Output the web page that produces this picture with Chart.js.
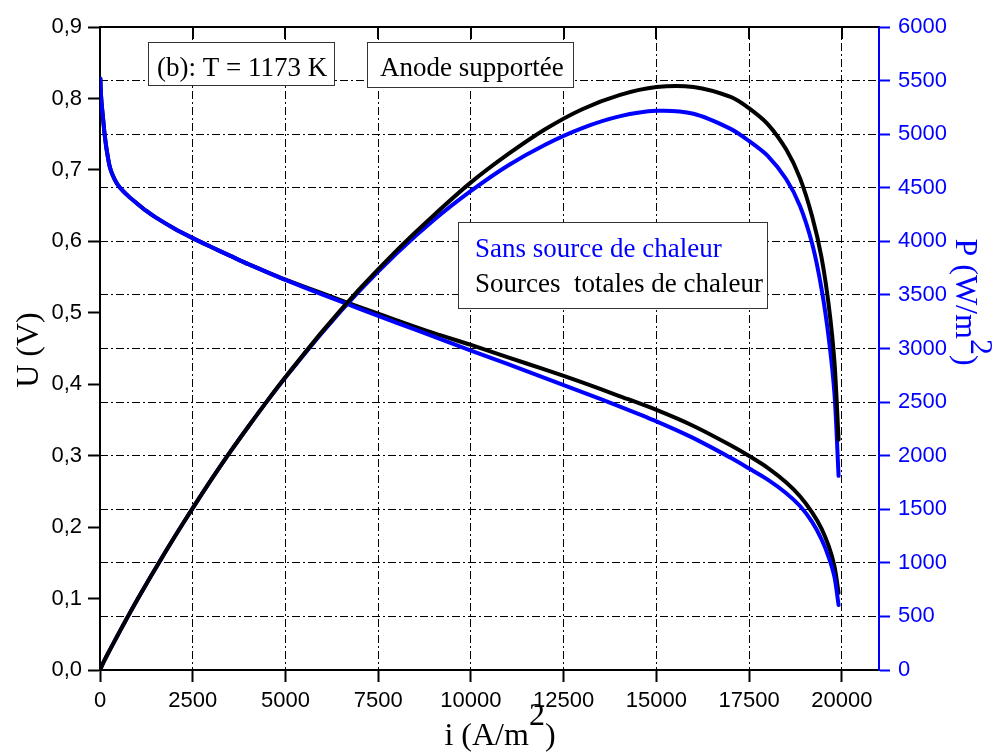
<!DOCTYPE html>
<html>
<head>
<meta charset="utf-8">
<title>U et P en fonction de i</title>
<script src="https://cdn.jsdelivr.net/npm/chart.js@4.4.1/dist/chart.umd.min.js"></script>
<style>
  body { margin: 0; background: #fff; }
  canvas { display: block; }
</style>
</head>
<body>
<canvas id="chart" width="999" height="754"></canvas>
<script>
// current density i (A/m2)
const currentDensity = [10, 20, 40, 60, 90, 120, 180, 270, 400, 540, 750, 1000, 1250, 1500, 2000, 2500, 3000, 3500, 4000, 4500, 5000, 6000, 7000, 8000, 9000, 10000, 11000, 12000, 13000, 14000, 15000, 16000, 17000, 17500, 18000, 18500, 18870, 19200, 19450, 19650, 19800, 19910];

// cell voltage U (V)
const voltageSans = [0.828, 0.812, 0.795, 0.784, 0.768, 0.752, 0.728, 0.703, 0.686, 0.675, 0.664, 0.653, 0.6425, 0.6335, 0.618, 0.6045, 0.592, 0.580, 0.568, 0.557, 0.546, 0.5255, 0.5055, 0.486, 0.4665, 0.447, 0.428, 0.4085, 0.389, 0.369, 0.348, 0.3245, 0.297, 0.282, 0.2665, 0.2475, 0.2295, 0.207, 0.183, 0.157, 0.130, 0.091];
const voltageTotal = [0.828, 0.812, 0.795, 0.784, 0.768, 0.752, 0.728, 0.703, 0.686, 0.675, 0.664, 0.653, 0.6425, 0.6335, 0.618, 0.6045, 0.592, 0.580, 0.568, 0.557, 0.5465, 0.527, 0.508, 0.4895, 0.4715, 0.455, 0.4375, 0.4205, 0.4025, 0.3835, 0.364, 0.3415, 0.3145, 0.2995, 0.283, 0.2625, 0.2432, 0.2203, 0.198, 0.1725, 0.145, 0.108];

// power density P (W/m2)
const powerSans = [8, 16, 32, 47, 69, 90, 131, 190, 274, 365, 498, 653, 803, 950, 1236, 1511, 1776, 2030, 2272, 2507, 2730, 3153, 3539, 3888, 4199, 4470, 4708, 4902, 5057, 5166, 5218, 5190, 5049, 4935, 4797, 4579, 4330, 3975, 3559, 3085, 2574, 1812];
const powerTotal = [8, 16, 32, 47, 69, 90, 131, 190, 274, 365, 498, 653, 803, 950, 1236, 1511, 1776, 2030, 2272, 2507, 2733, 3162, 3556, 3916, 4244, 4550, 4813, 5046, 5233, 5365, 5440, 5440, 5347, 5241, 5094, 4856, 4590, 4230, 3851, 3390, 2871, 2150];

// tick values
const xTicks = [0, 2500, 5000, 7500, 10000, 12500, 15000, 17500, 20000];
const uTicks = [0, 0.1, 0.2, 0.3, 0.4, 0.5, 0.6, 0.7, 0.8, 0.9];
const pTicks = [0, 500, 1000, 1500, 2000, 2500, 3000, 3500, 4000, 4500, 5000, 5500, 6000];

const BLUE = "#0000ff";
const SERIF = '"Liberation Serif", "Times New Roman", serif';
const SANS = '"Liberation Sans", Arial, sans-serif';
const DASH_DOT = [8, 3, 2, 3];

function points(ys) {
    return currentDensity.map((x, i) => ({ x: x, y: ys[i] }));
}

function setTicks(values) {
    return scale => { scale.ticks = values.map(v => ({ value: v })); };
}

// axis title with a superscript part, centred on (cx, cy) at the baseline
function drawRichText(ctx, parts, cx, cy, angle, color, raise) {
    ctx.save();
    ctx.translate(cx, cy);
    ctx.rotate(angle);
    ctx.fillStyle = color;
    ctx.font = "32px " + SERIF;
    ctx.textAlign = "left";
    ctx.textBaseline = "alphabetic";
    const widths = parts.map(p => ctx.measureText(p.text).width);
    let x = -widths.reduce((a, b) => a + b, 0) / 2;
    parts.forEach((p, i) => {
        ctx.fillText(p.text, x, p.sup ? -raise : 0);
        x += widths[i];
    });
    ctx.restore();
}

function drawBox(ctx, left, top, right, bottom) {
    ctx.fillStyle = "#fff";
    ctx.fillRect(left, top, right - left, bottom - top);
    ctx.strokeStyle = "#333";
    ctx.lineWidth = 1;
    ctx.strokeRect(left + 0.5, top + 0.5, right - left, bottom - top);
}

const decorPlugin = {
    id: "decor",
    afterDatasetsDraw(chart) {
        const ctx = chart.ctx;
        ctx.save();
        ctx.font = "27px " + SERIF;
        ctx.textBaseline = "alphabetic";
        ctx.textAlign = "left";

        drawBox(ctx, 148, 42, 334, 85);
        ctx.fillStyle = "#000";
        ctx.fillText("(b): T = 1173 K", 157, 76);

        drawBox(ctx, 367, 42, 573, 87);
        ctx.fillStyle = "#000";
        ctx.fillText("Anode supportée", 380, 76);

        drawBox(ctx, 458, 222, 767, 308);
        ctx.fillStyle = BLUE;
        ctx.fillText("Sans source de chaleur", 475, 257);
        ctx.fillStyle = "#000";
        ctx.fillText("Sources  totales de chaleur", 475, 292);
        ctx.restore();
    },
    afterDraw(chart) {
        const { ctx, chartArea: a, scales } = chart;
        ctx.save();
        // top frame with inward ticks
        ctx.strokeStyle = "#000";
        ctx.lineWidth = 2;
        ctx.beginPath();
        ctx.moveTo(a.left - 1, a.top);
        ctx.lineTo(a.right, a.top);
        xTicks.forEach(v => {
            const px = Math.round(scales.x.getPixelForValue(v));
            ctx.moveTo(px, a.top);
            ctx.lineTo(px, a.top + 12);
        });
        ctx.stroke();
        ctx.restore();

        drawRichText(ctx, [{ text: "U (V)" }], 38, 350, -Math.PI / 2, "#000", 0);
        drawRichText(ctx, [{ text: "i (A/m" }, { text: "2", sup: true }, { text: ")" }], 500, 745, 0, "#000", 20);
        drawRichText(ctx, [{ text: "P (W/m" }, { text: "2", sup: true }, { text: ")" }], 956, 302, Math.PI / 2, BLUE, 15);
    }
};

document.addEventListener("DOMContentLoaded", () => {
    const ctx = document.getElementById("chart").getContext("2d");

    new Chart(ctx, {
        type: "line",
        data: {
            datasets: [
                {
                    label: "U - Sources totales de chaleur",
                    data: points(voltageTotal),
                    yAxisID: "yU",
                    borderColor: "#000",
                    order: 4,
                },
                {
                    label: "U - Sans source de chaleur",
                    data: points(voltageSans),
                    yAxisID: "yU",
                    borderColor: BLUE,
                    order: 3,
                },
                {
                    label: "P - Sans source de chaleur",
                    data: points(powerSans),
                    yAxisID: "yP",
                    borderColor: BLUE,
                    order: 2,
                },
                {
                    label: "P - Sources totales de chaleur",
                    data: points(powerTotal),
                    yAxisID: "yP",
                    borderColor: "#000",
                    order: 1,
                },
            ],
        },
        options: {
            responsive: false,
            devicePixelRatio: 1,
            animation: false,
            layout: { padding: { top: 27 } },
            elements: {
                point: { radius: 0 },
                line: { borderWidth: 4, tension: 0.3, fill: false, borderJoinStyle: "round", borderCapStyle: "round" },
            },
            plugins: {
                legend: { display: false },
                tooltip: { enabled: false },
            },
            scales: {
                x: {
                    type: "linear",
                    position: "bottom",
                    min: 0,
                    max: 21000,
                    afterBuildTicks: setTicks(xTicks),
                    afterFit: scale => { scale.height = 84; },
                    ticks: {
                        autoSkip: false,
                        maxRotation: 0,
                        padding: 6,
                        color: "#000",
                        font: { family: SANS, size: 22 },
                        callback: v => String(v),
                    },
                    grid: {
                        color: "#000",
                        lineWidth: 1,
                        tickLength: 12,
                        tickWidth: 2,
                        tickColor: "#000",
                        tickBorderDash: [],
                    },
                    border: { color: "#000", width: 2, dash: DASH_DOT },
                },
                yU: {
                    type: "linear",
                    position: "left",
                    min: 0,
                    max: 0.9,
                    afterBuildTicks: setTicks(uTicks),
                    afterFit: scale => { scale.width = 100; },
                    ticks: {
                        autoSkip: false,
                        padding: 6,
                        color: "#000",
                        font: { family: SANS, size: 22 },
                        callback: v => v.toFixed(1).replace(".", ","),
                    },
                    grid: {
                        drawOnChartArea: false,
                        tickLength: 12,
                        tickWidth: 2,
                        tickColor: "#000",
                        tickBorderDash: [],
                    },
                    border: { color: "#000", width: 2 },
                },
                yP: {
                    type: "linear",
                    position: "right",
                    min: 0,
                    max: 6000,
                    afterBuildTicks: setTicks(pTicks),
                    afterFit: scale => { scale.width = 120; },
                    ticks: {
                        autoSkip: false,
                        padding: 8,
                        color: BLUE,
                        font: { family: SANS, size: 22 },
                        callback: v => String(v),
                    },
                    grid: {
                        color: "#000",
                        lineWidth: 1,
                        tickLength: 11,
                        tickWidth: 2,
                        tickColor: BLUE,
                        tickBorderDash: [],
                    },
                    border: { color: BLUE, width: 2, dash: DASH_DOT },
                },
            },
        },
        plugins: [decorPlugin],
    });
});
</script>
</body>
</html>
